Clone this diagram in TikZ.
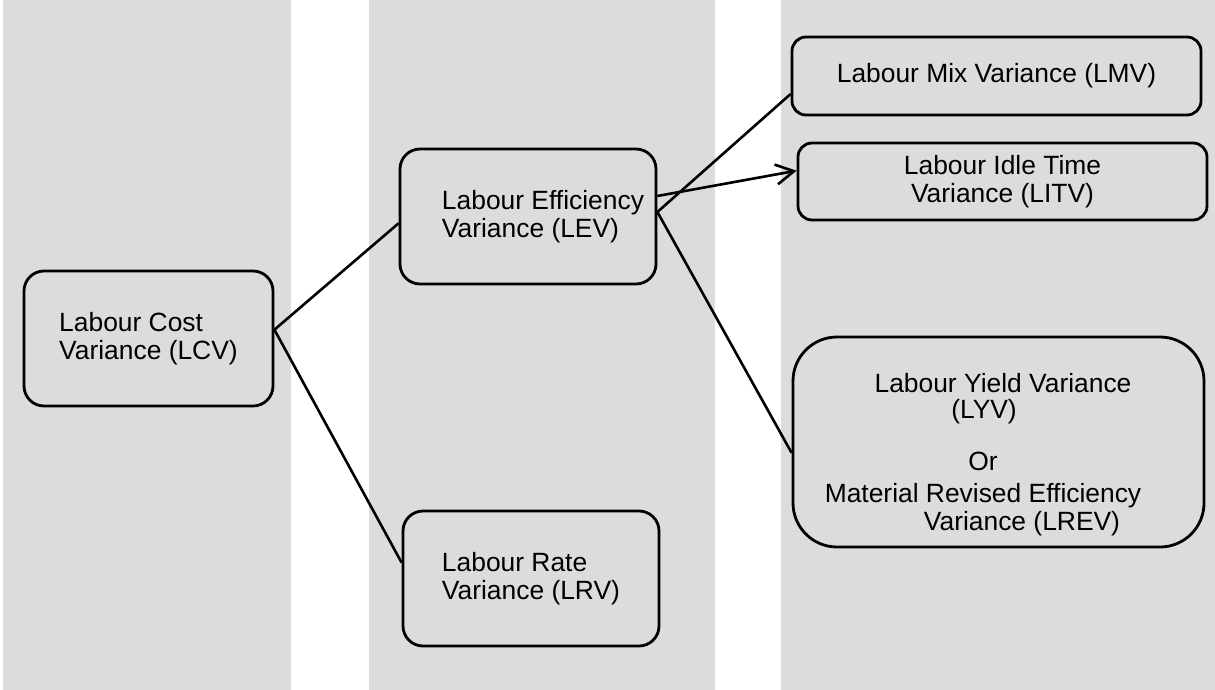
\documentclass[tikz,border=0pt]{standalone}
\usepackage{fontspec}
\setmainfont{Liberation Sans}
\usetikzlibrary{arrows.meta}
\definecolor{colgrey}{HTML}{DCDCDC}

\begin{document}
\begin{tikzpicture}[x=0.5pt,y=-0.5pt]
    \tikzstyle{var}=[draw,line width=1.4pt,rounded corners=10pt,align=left,font=\fontsize{13.2}{14}\selectfont]
    \tikzstyle{link}=[line width=1.3pt]

    \useasboundingbox (0,0) rectangle (1215,690);
    \fill[colgrey] (3,0) rectangle (291,690);
    \fill[colgrey] (369,0) rectangle (715,690);
    \fill[colgrey] (781,0) rectangle (1215,690);

    \node[var,minimum width=124.5pt,minimum height=67.5pt] (LCV) at (148.5,338.5) {Labour Cost\\Variance (LCV)};
    \node[var,minimum width=128pt,minimum height=67.5pt] (LEV) at (528,216.5) {\hspace*{15pt}Labour Efficiency\\\hspace*{15pt}Variance (LEV)};
    \node[var,minimum width=128pt,minimum height=67.5pt] (LRV) at (531,578.5) {Labour Rate\\Variance (LRV)};
    \node[var,rounded corners=7pt,minimum width=204.5pt,minimum height=39pt] (LMV) at (996.5,76) {Labour Mix Variance (LMV)};
    \node[var,rounded corners=7pt,align=center,minimum width=204.5pt,minimum height=38.5pt] (LITV) at (1002.5,181.5) {Labour Idle Time\\Variance (LITV)};
    \node[var,rounded corners=22pt,align=center,minimum width=205.5pt,minimum height=105pt] (LYV) at (998.5,442)
        {\rule{0pt}{22pt}\hspace*{4.5pt}Labour Yield Variance\\[-1pt]
         (LYV)\hspace*{14.5pt}\mbox{}\\[12pt]
         Or\hspace*{15.5pt}\mbox{}\\[2pt]
         Material Revised Efficiency\hspace*{15.5pt}\mbox{}\\
         \hspace*{23.5pt}Variance (LREV)};

    \path[draw,link]
    (LCV.4) edge (LEV.183)
    (LCV.4) edge (LRV.173.5)
    (LEV.2) edge (LMV.185.6)
    (LEV.9) edge[-{Straight Barb[length=9pt,width=10pt]}] (LITV.177.4)
    (LEV.2) edge (LYV.183.6)
    ;
\end{tikzpicture}
\end{document}
